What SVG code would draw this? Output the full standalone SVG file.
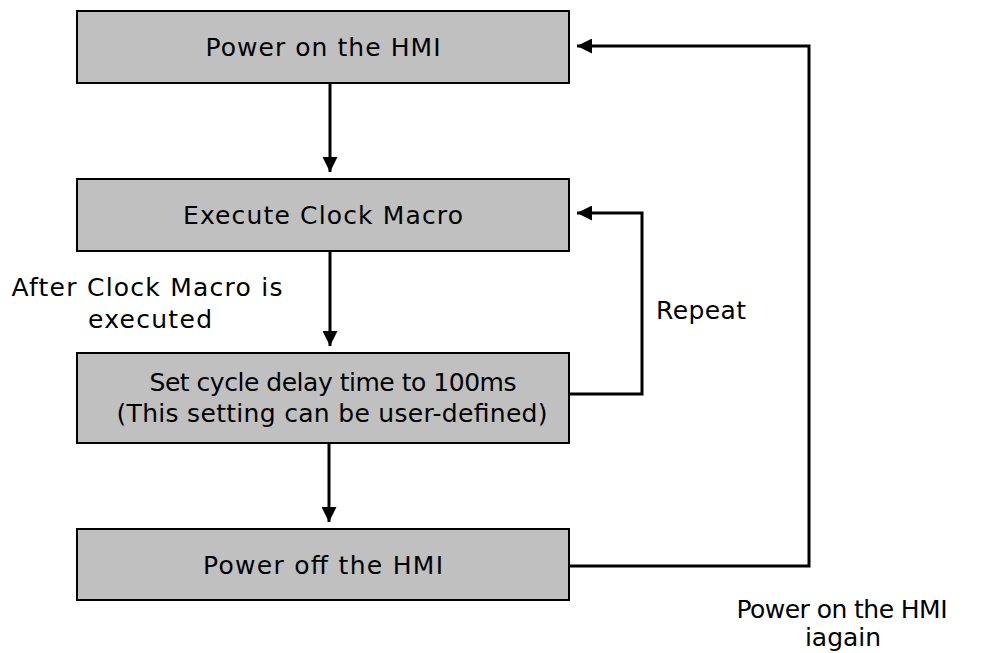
<svg xmlns="http://www.w3.org/2000/svg" width="982" height="653" viewBox="0 0 982 653">
<style>
.box{fill:#c0c0c0;stroke:#000;stroke-width:2}
.t{font-family:"DejaVu Sans",sans-serif;font-size:25px;fill:#000}
.m{text-anchor:middle}
.c{fill:none;stroke:#000;stroke-width:3}
</style>
<defs>
<marker id="ah" markerWidth="5" markerHeight="5" refX="5" refY="2.5" orient="auto" markerUnits="strokeWidth">
<path d="M0,0 L5,2.5 L0,5 Z" fill="#000"/>
</marker>
</defs>
<rect width="982" height="653" fill="#fff"/>
<g id="n1"><rect class="box" x="77" y="11" width="492" height="72"/><text class="t m" x="323" y="56" textLength="235">Power on the HMI</text></g>
<g id="n2"><rect class="box" x="77" y="179" width="492" height="72"/><text class="t m" x="323" y="224" textLength="280">Execute Clock Macro</text></g>
<g id="n3"><rect class="box" x="77" y="353" width="492" height="90"/><text class="t m" x="333" y="391" textLength="367">Set cycle delay time to 100ms</text><text class="t m" x="332" y="422" textLength="431">(This setting can be user-defined)</text></g>
<g id="n4"><rect class="box" x="77" y="529" width="492" height="71"/><text class="t m" x="323" y="574" textLength="240">Power off the HMI</text></g>
<g id="connectors">
<path class="c" d="M330,83 V172" marker-end="url(#ah)"/>
<path class="c" d="M330,251 V346" marker-end="url(#ah)"/>
<path class="c" d="M329,443 V522" marker-end="url(#ah)"/>
<path class="c" d="M569,394 H642 V213 H577" marker-end="url(#ah)"/>
<path class="c" d="M569,566 H809 V46 H577" marker-end="url(#ah)"/>
</g>
<g id="labels">
<text class="t m" x="147" y="296" textLength="271">After Clock Macro is</text>
<text class="t m" x="150" y="328" textLength="124">executed</text>
<text class="t" x="656" y="319" textLength="90">Repeat</text>
<text class="t m" x="842" y="618" textLength="211">Power on the HMI</text>
<text class="t m" x="843" y="646">iagain</text>
</g>
</svg>
